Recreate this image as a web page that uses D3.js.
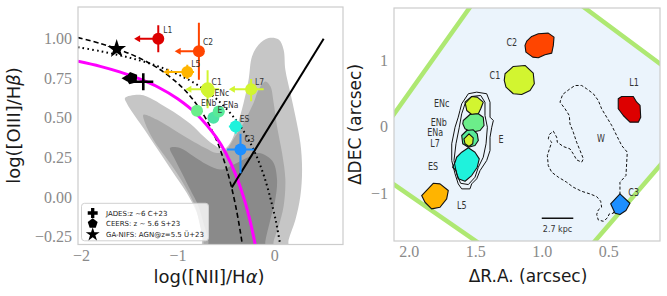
<!DOCTYPE html>
<html><head><meta charset="utf-8">
<script src="https://cdn.jsdelivr.net/npm/d3@7"></script>
<style>
body{margin:0;background:#fff;}
svg{display:block;}
</style></head><body>
<svg id="c" width="667" height="296"></svg>
<script>
// ---------------- DATA: left panel (BPT) ----------------
const xTicksL = [-2, -1, 0];
const yTicksL = [-0.25, 0.00, 0.25, 0.50, 0.75, 1.00];

// demarcation curves, points [log NII/Ha, log OIII/Hb]
const curveDashed = [[-2.03,1.007],[-1.8,0.970],[-1.6,0.930],[-1.4,0.879],[-1.2,0.812],[-1.0,0.719],[-0.9,0.658],[-0.8,0.582],[-0.7,0.487],[-0.6,0.362],[-0.55,0.283],[-0.5,0.191],[-0.45,0.080],[-0.4,-0.056],[-0.35,-0.225],[-0.33,-0.305]];
const curveDotted = [[-2.03,0.946],[-1.8,0.921],[-1.6,0.895],[-1.4,0.864],[-1.2,0.825],[-1.0,0.775],[-0.8,0.710],[-0.6,0.620],[-0.4,0.489],[-0.3,0.398],[-0.2,0.280],[-0.1,0.120],[0.0,-0.108],[0.03,-0.196],[0.06,-0.298]];
const curveMagenta = [[-2.03,0.857],[-1.8,0.825],[-1.6,0.790],[-1.4,0.747],[-1.2,0.693],[-1.0,0.620],[-0.8,0.521],[-0.6,0.376],[-0.5,0.275],[-0.4,0.143],[-0.3,-0.037],[-0.25,-0.152],[-0.2,-0.293],[-0.195,-0.309]];
const lineSolid = [[-0.44,0.06],[0.51,1.0]];

// density contours (outer -> inner)
const contourLight = [[-0.72,-0.35],[-0.749,-0.227],[-0.801,-0.1],[-0.905,0.026],[-1.044,0.152],[-1.181,0.278],[-1.319,0.405],[-1.44,0.51],[-1.527,0.594],[-1.544,0.626],[-1.389,0.646],[-1.251,0.615],[-1.112,0.563],[-0.974,0.51],[-0.836,0.446],[-0.733,0.383],[-0.629,0.331],[-0.525,0.30],[-0.456,0.342],[-0.387,0.446],[-0.318,0.594],[-0.266,0.741],[-0.231,0.888],[-0.163,0.962],[-0.059,1.004],[0.045,0.994],[0.096,0.93],[0.114,0.804],[0.166,0.657],[0.218,0.51],[0.269,0.342],[0.287,0.173],[0.269,0.004],[0.218,-0.143],[0.148,-0.27],[0.13,-0.35]];
const contourMid = [[-0.72,-0.35],[-0.733,-0.28],[-0.767,-0.185],[-0.819,-0.059],[-0.905,0.047],[-1.008,0.152],[-1.13,0.257],[-1.251,0.362],[-1.337,0.468],[-1.354,0.52],[-1.216,0.489],[-1.044,0.426],[-0.87,0.362],[-0.715,0.31],[-0.594,0.278],[-0.508,0.289],[-0.404,0.383],[-0.318,0.468],[-0.215,0.594],[-0.163,0.678],[-0.093,0.73],[-0.041,0.699],[-0.007,0.594],[0.028,0.446],[0.08,0.278],[0.114,0.11],[0.096,-0.059],[0.045,-0.185],[-0.007,-0.28],[-0.02,-0.35]];
const contourDark = [[-0.69,-0.35],[-0.681,-0.28],[-0.733,-0.163],[-0.784,-0.059],[-0.87,0.047],[-0.956,0.152],[-1.026,0.236],[-1.078,0.31],[-0.974,0.31],[-0.836,0.257],[-0.698,0.205],[-0.56,0.173],[-0.47,0.19],[-0.387,0.215],[-0.249,0.257],[-0.163,0.278],[-0.076,0.257],[-0.007,0.215],[0.028,0.11],[0.01,-0.016],[-0.041,-0.143],[-0.093,-0.28],[-0.1,-0.35]];

// region measurements
const ptNames = ["L1","C2","L5","ENc","C1","L7","ENb","E","ENa","ES","C3"];
const ptX     = [-1.20,-0.78,-0.90,-0.68,-0.69,-0.24,-0.80,-0.63,-0.575,-0.40,-0.35];
const ptY     = [1.00, 0.92, 0.79, 0.665,0.68, 0.68, 0.545,0.50, 0.54, 0.445,0.30];
const ptXlo   = [0.25, 0.25, 0.25, 0,    0.23, 0.23, 0,    0,    0,    0.07, 0.14];
const ptXhi   = [0,    0,    0.07, 0,    0.12, 0.13, 0,    0,    0.06, 0.07, 0.14];
const ptYlo   = [0.085,0.18, 0.045,0,    0.12, 0.075,0,    0,    0,    0.045,0.15];
const ptYhi   = [0.085,0.18, 0.045,0,    0.12, 0.065,0,    0,    0,    0.045,0.10];
const ptUpperLimX = [true,true,true,false,true,true,false,false,false,false,false];

// literature points
const litNames = ["JADES:z \u223C6 C+23","CEERS: z \u223C 5.6 S+23","GA-NIFS: AGN@z=5.5 \u00DC+23"];
const litX = [-1.355,-1.475,-1.63];
const litY = [0.728, 0.75, 0.935];
const litXlo = [0, 0.105, 0];

// ---------------- DATA: right panel (map) ----------------
const xTicksR = [2.0, 1.5, 1.0, 0.5];
const yTicksR = [-1, 0, 1];
const fov = [[1.243,2.623],[-0.292,0.347],[0.933,-2.496],[2.363,-0.524]];
const regionNames = ["C2","C1","L1","C3","L5","ENc","ENb","ENa","L7","ES"];
const regionShapes = [
 [[1.112,1.283],[1.075,1.353],[1.025,1.394],[0.950,1.403],[0.907,1.343],[0.912,1.218],[0.924,1.102],[0.975,1.078],[1.025,1.033],[1.067,1.042],[1.118,1.117],[1.125,1.218]],
 [[1.275,0.792],[1.213,0.902],[1.125,0.917],[1.063,0.802],[1.055,0.642],[1.087,0.541],[1.15,0.481],[1.213,0.492],[1.268,0.591],[1.281,0.692]],
 [[0.424,0.417],[0.398,0.451],[0.311,0.451],[0.285,0.365],[0.26,0.316],[0.255,0.14],[0.273,0.065],[0.336,0.065],[0.386,0.165],[0.424,0.266]],
 [[0.481,-1.162],[0.411,-1.012],[0.336,-1.153],[0.366,-1.263],[0.411,-1.323],[0.448,-1.304]],
 [[1.902,-1.038],[1.815,-0.853],[1.764,-0.862],[1.702,-0.962],[1.714,-1.087],[1.764,-1.213],[1.827,-1.238],[1.877,-1.138]],
 [[1.576,0.365],[1.526,0.451],[1.484,0.441],[1.439,0.365],[1.458,0.266],[1.476,0.191],[1.526,0.18],[1.563,0.241]],
 [[1.589,0.09],[1.539,0.18],[1.476,0.191],[1.439,0.14],[1.433,0.015],[1.463,-0.06],[1.526,-0.086],[1.576,-0.035],[1.593,0.041]],
 [[1.601,-0.135],[1.563,-0.06],[1.514,-0.05],[1.484,-0.11],[1.476,-0.211],[1.501,-0.286],[1.551,-0.311],[1.593,-0.26]],
 [[1.584,-0.185],[1.546,-0.11],[1.514,-0.17],[1.518,-0.26],[1.546,-0.301],[1.576,-0.26]],
 [[1.639,-0.462],[1.601,-0.386],[1.551,-0.32],[1.501,-0.386],[1.469,-0.486],[1.484,-0.612],[1.526,-0.737],[1.576,-0.823],[1.627,-0.786],[1.644,-0.662],[1.669,-0.612],[1.651,-0.537]]
];
const outlineEouter = [[1.601,0.341],[1.551,0.492],[1.488,0.516],[1.413,0.492],[1.388,0.365],[1.388,0.14],[1.363,0.09],[1.375,-0.011],[1.388,-0.161],[1.388,-0.361],[1.413,-0.511],[1.463,-0.662],[1.488,-0.786],[1.526,-0.862],[1.539,-0.937],[1.601,-0.937],[1.627,-0.862],[1.651,-0.711],[1.676,-0.511],[1.676,-0.26],[1.651,-0.011],[1.627,0.14],[1.614,0.241]];
const outlineEinner = [[1.576,0.341],[1.526,0.451],[1.458,0.466],[1.426,0.365],[1.426,0.165],[1.408,-0.011],[1.418,-0.26],[1.439,-0.462],[1.476,-0.612],[1.501,-0.762],[1.551,-0.872],[1.609,-0.853],[1.639,-0.711],[1.659,-0.511],[1.644,-0.26],[1.619,-0.011],[1.601,0.191]];
const outlineW = [[0.411,-1.023],[0.411,-0.837],[0.366,-0.737],[0.361,-0.561],[0.356,-0.386],[0.398,-0.286],[0.436,-0.135],[0.473,0.015],[0.511,0.14],[0.549,0.266],[0.574,0.391],[0.611,0.491],[0.661,0.566],[0.699,0.616],[0.749,0.616],[0.787,0.566],[0.842,0.481],[0.862,0.366],[0.824,0.266],[0.792,0.165],[0.787,0.04],[0.762,-0.085],[0.737,-0.236],[0.711,-0.361],[0.686,-0.486],[0.699,-0.536],[0.737,-0.501],[0.762,-0.411],[0.787,-0.336],[0.837,-0.301],[0.882,-0.236],[0.887,-0.161],[0.912,-0.07],[0.942,-0.12],[0.95,-0.186],[0.924,-0.236],[0.937,-0.311],[0.957,-0.436],[0.95,-0.587],[0.924,-0.687],[0.874,-0.762],[0.812,-0.837],[0.762,-0.912],[0.699,-0.973],[0.636,-1.013],[0.586,-1.053],[0.556,-1.123],[0.549,-1.213],[0.574,-1.253],[0.586,-1.323],[0.574,-1.404],[0.536,-1.424],[0.506,-1.374],[0.491,-1.313],[0.461,-1.303]];
const mapLabelText = ["C2","C1","L1","C3","ENc","ENb","ENa","L7","E","ES","L5","W"];
const mapLabelX = [1.225,1.351,0.305,0.308,1.751,1.774,1.80,1.802,1.305,1.817,1.601,0.554];
const mapLabelY = [1.203,0.707,0.602,-1.038,0.293,0.0,-0.15,-0.301,-0.251,-0.651,-1.238,-0.233];
const scaleBarX = [0.999, 0.762];
const scaleBarY = -1.379;
const scaleBarText = "2.7 kpc";

// ---------------- STYLE ----------------
const colorOf = {L1:"#dd0000",C2:"#ff4500",L5:"#ffb400",ENc:"#d2f530",C1:"#d2f530",L7:"#d2f530",
  ENb:"#6cee8a",E:"#4fe3a6",ENa:"#58ea98",ES:"#1ff2dc",C3:"#1e8fff"};
const tickFont = "'Liberation Serif', serif";
const sansFont = "'DejaVu Sans', sans-serif";

const svg = d3.select("#c");
function narrowLabel(g, x, y, t, size, anchor){
  return g.append("text").attr("transform",`translate(${x},${y}) scale(0.8,1)`)
    .attr("text-anchor",anchor||"start").text(t)
    .attr("font-family",sansFont).attr("font-size",size).attr("fill","#333");
}

// ---------- LEFT PANEL ----------
const xL = d3.scaleLinear().domain([-2.03, 0.71]).range([78, 343]);
const yL = d3.scaleLinear().domain([-0.3, 1.2]).range([244.5, 7]);
const defs = svg.append("defs");
defs.append("clipPath").attr("id","clipL").append("rect")
  .attr("x",78).attr("y",7).attr("width",265).attr("height",237.5);
const gL = svg.append("g");
const plotL = gL.append("g").attr("clip-path","url(#clipL)");
const area = d3.line().x(d=>xL(d[0])).y(d=>yL(d[1])).curve(d3.curveCatmullRomClosed.alpha(0.5));
[[contourLight,"#c6c6c6"],[contourMid,"#a9a9a9"],[contourDark,"#8a8a8a"]].forEach(([c,col])=>{
  plotL.append("path").attr("d",area(c)).attr("fill",col);
});
const lineLy = d3.line().x(d=>xL(d[0])).y(d=>yL(d[1])).curve(d3.curveCatmullRom);
plotL.append("path").attr("d",lineLy(curveDotted)).attr("fill","none").attr("stroke","#000")
  .attr("stroke-width",2).attr("stroke-dasharray","1.6,3.2");
plotL.append("path").attr("d",lineLy(curveDashed)).attr("fill","none").attr("stroke","#000")
  .attr("stroke-width",1.6).attr("stroke-dasharray","5,3");
plotL.append("path").attr("d",lineLy(curveMagenta)).attr("fill","none").attr("stroke","#ff00ff")
  .attr("stroke-width",3);
plotL.append("path").attr("d",d3.line().x(d=>xL(d[0])).y(d=>yL(d[1]))(lineSolid)).attr("fill","none")
  .attr("stroke","#000").attr("stroke-width",2);

function arrowLeft(g, x0, x1, y, col, w){
  g.append("line").attr("x1",x0).attr("x2",x1+5).attr("y1",y).attr("y2",y)
    .attr("stroke",col).attr("stroke-width",w);
  g.append("path").attr("d",`M${x1},${y}L${x1+6},${y-3.5}L${x1+6},${y+3.5}Z`).attr("fill",col);
}
function pentagonPath(r){
  const pts=d3.range(5).map(i=>{const a=-Math.PI/2+i*2*Math.PI/5;return [r*Math.cos(a),r*Math.sin(a)];});
  return "M"+pts.map(p=>p.join(",")).join("L")+"Z";
}

// literature markers
const gm = plotL.append("g");
gm.append("line").attr("x1",xL(litX[0])-10).attr("x2",xL(litX[0])+10).attr("y1",yL(litY[0])).attr("y2",yL(litY[0])).attr("stroke","#000").attr("stroke-width",2.6);
gm.append("line").attr("x1",xL(litX[0])).attr("x2",xL(litX[0])).attr("y1",yL(litY[0])-8.5).attr("y2",yL(litY[0])+8.5).attr("stroke","#000").attr("stroke-width",2.6);
arrowLeft(gm, xL(litX[1]), xL(litX[1]-litXlo[1]), yL(litY[1]), "#000", 2);
gm.append("path").attr("d",pentagonPath(6.5)).attr("transform",`translate(${xL(litX[1])},${yL(litY[1])}) rotate(-15)`).attr("fill","#000");
gm.append("path").attr("d",d3.symbol(d3.symbolStar).size(110)()).attr("transform",`translate(${xL(litX[2])},${yL(litY[2])})`).attr("fill","#000");

// region points
const gp = plotL.append("g");
ptNames.forEach((n,i)=>{
  const cx=xL(ptX[i]), cy=yL(ptY[i]), col=colorOf[n];
  if(ptXlo[i]>0){
    if(ptUpperLimX[i]) arrowLeft(gp, cx, xL(ptX[i]-ptXlo[i]), cy, col, 2);
    else gp.append("line").attr("x1",cx).attr("x2",xL(ptX[i]-ptXlo[i])).attr("y1",cy).attr("y2",cy).attr("stroke",col).attr("stroke-width",2);
  }
  if(ptXhi[i]>0) gp.append("line").attr("x1",cx).attr("x2",xL(ptX[i]+ptXhi[i])).attr("y1",cy).attr("y2",cy).attr("stroke",col).attr("stroke-width",2);
  if(ptYlo[i]>0||ptYhi[i]>0) gp.append("line").attr("x1",cx).attr("x2",cx).attr("y1",yL(ptY[i]-ptYlo[i])).attr("y2",yL(ptY[i]+ptYhi[i])).attr("stroke",col).attr("stroke-width",2);
  gp.append("circle").attr("cx",cx).attr("cy",cy).attr("r", n==="C1"?7:6).attr("fill",col);
});
const labOff = {ENc:[6,4],C3:[4,-8],L1:[5,-6],C2:[4,-6],ENa:[4.5,-3.5]};
ptNames.forEach((n,i)=>{
  const o = labOff[n]||[4,-4.5];
  narrowLabel(gp, xL(ptX[i])+o[0], yL(ptY[i])+o[1], n, 9.5);
});

// legend
const lg = gL.append("g");
lg.append("rect").attr("x",81.5).attr("y",203.3).attr("width",127).attr("height",37.5).attr("rx",3)
  .attr("fill","#fff").attr("fill-opacity",0.8).attr("stroke","#d0d0d0").attr("stroke-width",1);
const legY=[213,223,234];
lg.append("path").attr("d",d3.symbol(d3.symbolCross).size(55)()).attr("transform",`translate(92.7,${legY[0]})`).attr("fill","#000");
lg.append("path").attr("d",pentagonPath(5.2)).attr("transform",`translate(92.7,${legY[1]+0.5})`).attr("fill","#000");
lg.append("path").attr("d",d3.symbol(d3.symbolStar).size(60)()).attr("transform",`translate(92.7,${legY[2]+0.5})`).attr("fill","#000");
litNames.forEach((t,i)=>{
  lg.append("text").attr("x",106).attr("y",legY[i]+2.5).text(t).attr("font-family",sansFont)
    .attr("font-size",7).attr("fill","#222");
});

// frame + axes
gL.append("rect").attr("x",78).attr("y",7).attr("width",265).attr("height",237.5)
  .attr("fill","none").attr("stroke","#cccccc").attr("stroke-width",1.2);
const axYL = gL.append("g").attr("transform","translate(78,0)")
  .call(d3.axisLeft(yL).tickValues(yTicksL).tickFormat(d3.format(".2f")).tickSize(0).tickPadding(6));
const axXL = gL.append("g").attr("transform","translate(0,244.5)")
  .call(d3.axisBottom(xL).tickValues(xTicksL).tickFormat(d3.format("d")).tickSize(0).tickPadding(5));

gL.append("text").attr("x",209).attr("y",283).attr("text-anchor","middle")
  .attr("font-family",sansFont).attr("font-size",18).attr("fill","#1a1a1a")
  .html('log([NII]/H<tspan font-style="italic">α</tspan>)');
gL.append("text").attr("transform","translate(20,125.5) rotate(-90)").attr("text-anchor","middle")
  .attr("font-family",sansFont).attr("font-size",18).attr("fill","#1a1a1a")
  .html('log([OIII]/H<tspan font-style="italic">β</tspan>)');

// ---------- RIGHT PANEL ----------
const xR = d3.scaleLinear().domain([2.11, 0.11]).range([394, 660]);
const yR = d3.scaleLinear().domain([-1.72, 1.78]).range([241, 8]);
defs.append("clipPath").attr("id","clipR").append("rect")
  .attr("x",394).attr("y",8).attr("width",266).attr("height",233);
const gR = svg.append("g");
const plotR = gR.append("g").attr("clip-path","url(#clipR)");
const poly = d3.line().x(d=>xR(d[0])).y(d=>yR(d[1])).curve(d3.curveLinearClosed);
plotR.append("path").attr("d",poly(fov)).attr("fill","#ebf4fc").attr("stroke","#aee872").attr("stroke-width",4.5);

plotR.append("path").attr("d",poly(outlineW)).attr("fill","none").attr("stroke","#111")
  .attr("stroke-width",1).attr("stroke-dasharray","3,2");
regionNames.forEach((n,i)=>{
  plotR.append("path").attr("d",poly(regionShapes[i])).attr("fill",colorOf[n])
    .attr("stroke","#111").attr("stroke-width",1.1).attr("stroke-linejoin","round");
});
plotR.append("path").attr("d",poly(outlineEouter)).attr("fill","none").attr("stroke","#111").attr("stroke-width",1);
plotR.append("path").attr("d",poly(outlineEinner)).attr("fill","none").attr("stroke","#111").attr("stroke-width",1);

mapLabelText.forEach((t,i)=>{
  narrowLabel(plotR, xR(mapLabelX[i]), yR(mapLabelY[i]), t, 10, "middle");
});
plotR.append("line").attr("x1",xR(scaleBarX[0])).attr("x2",xR(scaleBarX[1])).attr("y1",yR(scaleBarY)).attr("y2",yR(scaleBarY))
  .attr("stroke","#111").attr("stroke-width",1.6);
plotR.append("text").attr("x",(xR(scaleBarX[0])+xR(scaleBarX[1]))/2).attr("y",yR(scaleBarY)+14).attr("text-anchor","middle")
  .text(scaleBarText).attr("font-family",sansFont).attr("font-size",8).attr("fill","#333");

gR.append("rect").attr("x",394).attr("y",8).attr("width",266).attr("height",233)
  .attr("fill","none").attr("stroke","#cccccc").attr("stroke-width",1.2);
const axYR = gR.append("g").attr("transform","translate(394,0)")
  .call(d3.axisLeft(yR).tickValues(yTicksR).tickFormat(d3.format("d")).tickSize(0).tickPadding(6));
const axXR = gR.append("g").attr("transform","translate(0,241)")
  .call(d3.axisBottom(xR).tickValues(xTicksR).tickFormat(d3.format(".1f")).tickSize(0).tickPadding(5));
gR.append("text").attr("x",528).attr("y",282).attr("text-anchor","middle")
  .attr("font-family",sansFont).attr("font-size",17).attr("fill","#1a1a1a").text("ΔR.A. (arcsec)");
gR.append("text").attr("transform","translate(361,124.5) rotate(-90)").attr("text-anchor","middle")
  .attr("font-family",sansFont).attr("font-size",17).attr("fill","#1a1a1a").text("ΔDEC (arcsec)");

[axYL,axXL,axYR,axXR].forEach(a=>{
  a.select(".domain").remove();
  a.selectAll("text").attr("font-family",tickFont).attr("font-size",16).attr("fill","#8a8a8a");
});
</script>
</body></html>
